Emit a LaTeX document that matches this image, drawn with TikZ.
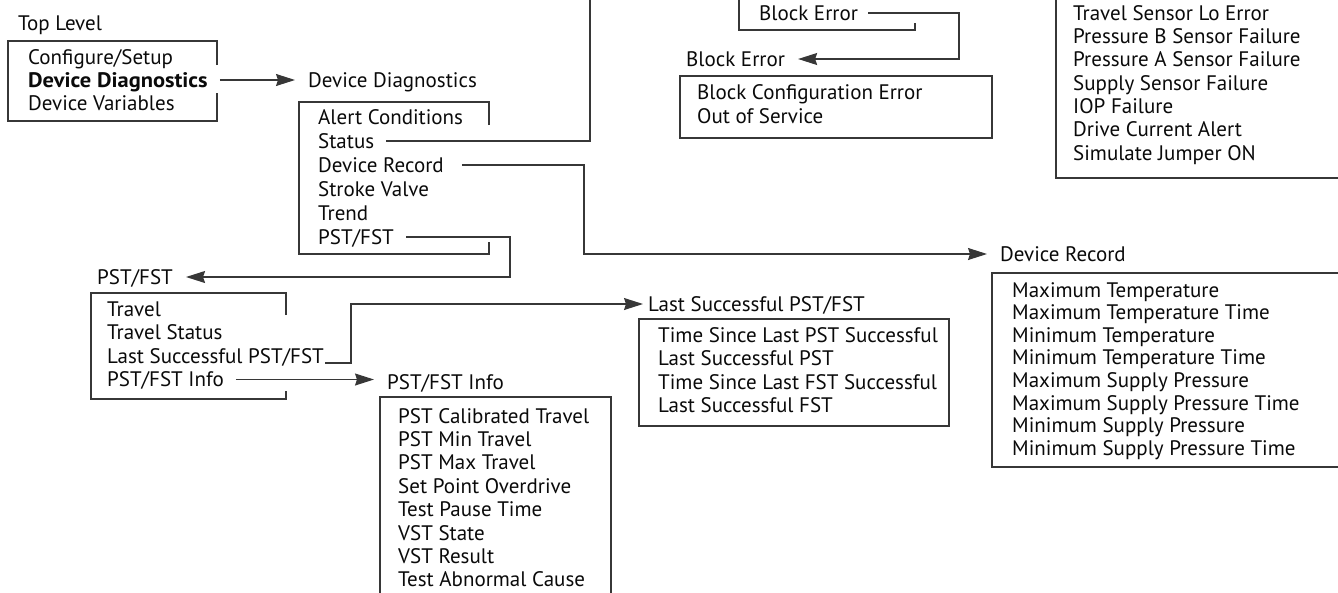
\documentclass[tikz,border=0pt]{standalone}
\usepackage{fontspec}
\setmainfont{PT Sans}
\newfontfamily\widebold[FakeStretch=1.07]{PT Sans}
\usepackage{xcolor}
\usepackage{tikz}
\usetikzlibrary{arrows.meta}
\definecolor{framegray}{RGB}{55, 55, 55}
\definecolor{menuink}{RGB}{10, 10, 10}

\tikzset{
    menuitem/.style={anchor=base west, inner sep=0pt, text height=14pt, text depth=0pt,
        text=menuink, font=\fontsize{21}{23}\selectfont},
    menuhead/.style={menuitem},
    frame/.style={framegray, line width=1.2pt},
    link/.style={framegray, line width=1.2pt, shorten <=12pt},
    linkarrow/.style={link, -{Stealth[length=19pt, width=12pt, inset=2pt]}, shorten >=13pt}
}

\begin{document}
\begin{tikzpicture}[x=1pt, y=-1pt]
    \useasboundingbox (0,0) rectangle (1338,592);
    \clip (0,0) rectangle (1338,592);

    % Top level menu
    \node[menuhead] (top-head) at (18,30) {Top Level};
    \draw[frame] (217,65) -- (217,41) -- (8,41) -- (8,121) -- (217,121) -- (217,93);
    \node[menuitem] (top-setup) at (28,64) {Configure/Setup};
    \node[menuitem, font=\fontsize{21}{23}\selectfont\widebold\bfseries] (top-diag) at (28,87) {Device Diagnostics};
    \node[menuitem] (top-vars) at (28,110) {Device Variables};

    % Device diagnostics menu
    \node[menuhead] (diag-head) at (308,87) {Device Diagnostics};
    \draw[frame] (489,125) -- (489,102) -- (299,102) -- (299,254) -- (489,254) -- (489,242);
    \node[menuitem] (diag-alert) at (318,124) {Alert Conditions};
    \node[menuitem] (diag-status) at (318,148) {Status};
    \node[menuitem] (diag-record) at (318,172) {Device Record};
    \node[menuitem] (diag-stroke) at (318,196) {Stroke Valve};
    \node[menuitem] (diag-trend) at (318,220) {Trend};
    \node[menuitem] (diag-pst) at (318,244) {PST/FST};
    \draw[linkarrow] (top-diag.east) -- (diag-head.west |- top-diag.east);

    % Status menu (above the page)
    \coordinate (status-top) at (590,-5);
    \draw[link] (diag-status.east) -| (status-top);

    % Block error
    \draw[frame] (739,-10) -- (739,30) -- (915,30) -- (915,23);
    \node[menuitem] (blk-item) at (759,20) {Block Error};
    \node[menuhead] (blk-head) at (686,66) {Block Error};
    \draw[frame] (680,76) rectangle (992,138);
    \node[menuitem] (blk-config) at (697,99) {Block Configuration Error};
    \node[menuitem] (blk-oos) at (697,123) {Out of Service};
    \coordinate (blk-turn) at (959,0);
    \draw[linkarrow, shorten <=10pt] (blk-item.east) -- (blk-item.east -| blk-turn) |- (blk-head.east);

    % Sensor alerts
    \draw[frame] (1056,-10) -- (1056,178) -- (1350,178);
    \node[menuitem] (sens-travel) at (1073,20) {Travel Sensor Lo Error};
    \node[menuitem] (sens-presb) at (1073,43.3) {Pressure B Sensor Failure};
    \node[menuitem] (sens-presa) at (1073,66.6) {Pressure A Sensor Failure};
    \node[menuitem] (sens-supply) at (1073,90) {Supply Sensor Failure};
    \node[menuitem] (sens-iop) at (1073,113.3) {IOP Failure};
    \node[menuitem] (sens-drive) at (1073,136.6) {Drive Current Alert};
    \node[menuitem] (sens-jumper) at (1073,160) {Simulate Jumper ON};

    % Device record menu
    \node[menuhead] (rec-head) at (1000,261) {Device Record};
    \draw[frame] (1350,273) -- (992,273) -- (992,467) -- (1350,467);
    \node[menuitem] (rec-maxt) at (1012,297) {Maximum Temperature};
    \node[menuitem] (rec-maxtt) at (1012,319.6) {Maximum Temperature Time};
    \node[menuitem] (rec-mint) at (1012,342.2) {Minimum Temperature};
    \node[menuitem] (rec-mintt) at (1012,364.8) {Minimum Temperature Time};
    \node[menuitem] (rec-maxp) at (1012,387.4) {Maximum Supply Pressure};
    \node[menuitem] (rec-maxpt) at (1012,410) {Maximum Supply Pressure Time};
    \node[menuitem] (rec-minp) at (1012,432.6) {Minimum Supply Pressure};
    \node[menuitem] (rec-minpt) at (1012,455.2) {Minimum Supply Pressure Time};
    \coordinate (rec-turn) at (584,0);
    \draw[linkarrow, shorten <=18pt] (diag-record.east) -- (diag-record.east -| rec-turn) |- (rec-head.west);

    % PST/FST menu
    \node[menuhead] (pst-head) at (97,284) {PST/FST};
    \draw[frame] (286,315) -- (286,293) -- (91,293) -- (91,399) -- (286,399) -- (286,391);
    \node[menuitem] (pst-travel) at (107,316) {Travel};
    \node[menuitem] (pst-status) at (107,339.5) {Travel Status};
    \node[menuitem] (pst-last) at (107,363) {Last Successful PST/FST};
    \node[menuitem] (pst-info) at (107,386.5) {PST/FST Info};
    \coordinate (pst-turn) at (510,0);
    \draw[linkarrow] (diag-pst.east) -- (diag-pst.east -| pst-turn) |- (pst-head.east);

    % Last successful PST/FST
    \node[menuhead] (last-head) at (648,311) {Last Successful PST/FST};
    \draw[frame] (639,319) rectangle (949,426);
    \node[menuitem] (last-pstsince) at (658,342) {Time Since Last PST Successful};
    \node[menuitem] (last-pst) at (658,365.5) {Last Successful PST};
    \node[menuitem] (last-fstsince) at (658,389) {Time Since Last FST Successful};
    \node[menuitem] (last-fst) at (658,412.5) {Last Successful FST};
    \coordinate (last-turn) at (351,0);
    \draw[linkarrow, shorten <=1pt, shorten >=5pt] (pst-last.base east) -- (pst-last.base east -| last-turn) |- (last-head.west);

    % PST/FST info
    \node[menuhead] (info-head) at (387,389) {PST/FST Info};
    \draw[frame] (611,620) -- (611,397) -- (380,397) -- (380,620);
    \node[menuitem] (info-cal) at (398,423) {PST Calibrated Travel};
    \node[menuitem] (info-min) at (398,446.4) {PST Min Travel};
    \node[menuitem] (info-max) at (398,469.8) {PST Max Travel};
    \node[menuitem] (info-spo) at (398,493.2) {Set Point Overdrive};
    \node[menuitem] (info-pause) at (398,516.6) {Test Pause Time};
    \node[menuitem] (info-vsts) at (398,540) {VST State};
    \node[menuitem] (info-vstr) at (398,563.4) {VST Result};
    \node[menuitem] (info-cause) at (398,586.8) {Test Abnormal Cause};
    \draw[linkarrow] (pst-info.east) -- (info-head.west |- pst-info.east);
\end{tikzpicture}
\end{document}
